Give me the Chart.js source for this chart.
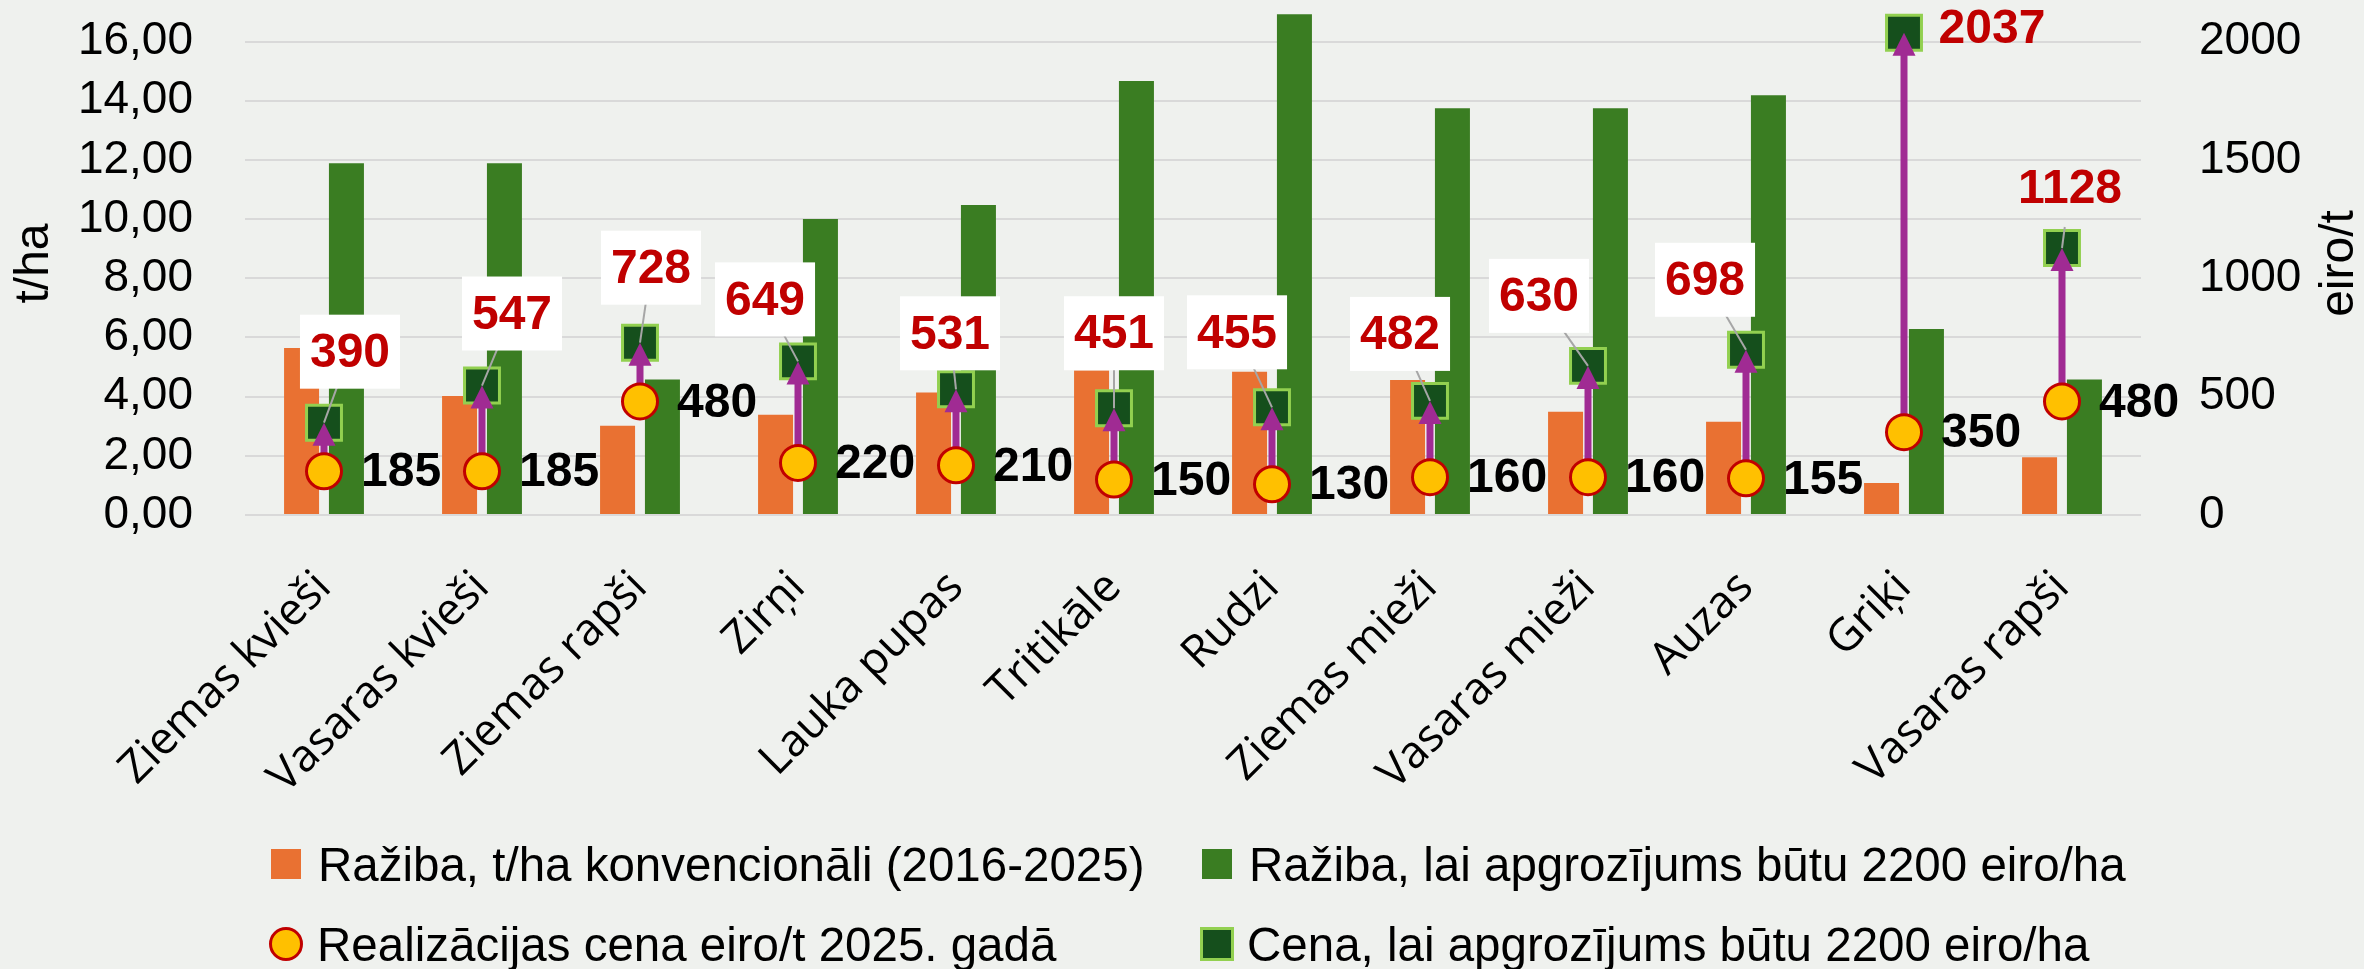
<!DOCTYPE html>
<html>
<head>
<meta charset="utf-8">
<script src="https://cdn.jsdelivr.net/npm/chart.js@4.4.1/dist/chart.umd.min.js"></script>
<style>
  html, body { margin: 0; padding: 0; background: #eff1ee; }
  #wrap { position: relative; width: 2364px; height: 969px; }
  #legend { position: absolute; left: 0; top: 0; width: 2364px; height: 969px; pointer-events: none;
    font-family: 'Liberation Sans', Arial, sans-serif; font-size: 47.5px; color: #000; }
  .item { position: absolute; display: flex; align-items: center; height: 40px; white-space: nowrap; }
  .mark { width: 30px; height: 30px; margin-right: 17px; box-sizing: border-box; flex: none; }
  .m-orange { background: #e97132; }
  .m-green { background: #3a7d22; }
  .m-circle { width: 34px; height: 34px; border-radius: 50%; background: #ffc000; border: 3px solid #c00000; margin-right: 14px; }
  .m-square { width: 34px; height: 34px; background: #154f1c; border: 3px solid #92d050; margin-right: 13px; }
</style>
</head>
<body>
<div id="wrap">
  <canvas id="myChart" width="2364" height="969"></canvas>
  <div id="legend">
    <div class="item" style="left:271px; top:844px;"><span class="mark m-orange"></span>Ražiba, t/ha konvencionāli (2016-2025)</div>
    <div class="item" style="left:1202px; top:844px;"><span class="mark m-green"></span>Ražiba, lai apgrozījums būtu 2200 eiro/ha</div>
    <div class="item" style="left:269px; top:924px;"><span class="mark m-circle"></span>Realizācijas cena eiro/t 2025. gadā</div>
    <div class="item" style="left:1200px; top:924px;"><span class="mark m-square"></span>Cena, lai apgrozījums būtu 2200 eiro/ha</div>
  </div>
</div>
<script>
// values
const categories = ['Ziemas kvieši', 'Vasaras kvieši', 'Ziemas rapši', 'Zirņi', 'Lauka pupas', 'Tritikāle',
    'Rudzi', 'Ziemas mieži', 'Vasaras mieži', 'Auzas', 'Griķi', 'Vasaras rapši'];
const yieldConv = [5.64, 4.02, 3.02, 3.39, 4.14, 4.88, 4.84, 4.56, 3.49, 3.15, 1.08, 1.95];
const yieldTarget = [11.89, 11.89, 4.58, 10.0, 10.48, 14.67, 16.92, 13.75, 13.75, 14.19, 6.29, 4.58];
const priceNow = [185, 185, 480, 220, 210, 150, 130, 160, 160, 155, 350, 480];
const priceTarget = [390, 547, 728, 649, 531, 451, 455, 482, 630, 698, 2037, 1128];
const leftTicks = [0, 2, 4, 6, 8, 10, 12, 14, 16];
const rightTicks = [0, 500, 1000, 1500, 2000];

const legendNames = ['Ražiba, t/ha konvencionāli (2016-2025)', 'Ražiba, lai apgrozījums būtu 2200 eiro/ha',
    'Cena, lai apgrozījums būtu 2200 eiro/ha', 'Realizācijas cena eiro/t 2025. gadā'];

// where the red labels sit, relative to their square (px), and whether they get a white box
const labelShift = [[26, -71], [30, -72], [11, -75], [-33, -62], [-6, -56], [0, -75],
    [-35, -75], [-30, -67], [-49, -70], [-41, -70], [88, -5], [8, -60]];
const labelBox = [true, true, true, true, true, true, true, true, true, true, false, false];

const arrows = {
    id: 'arrows',
    afterDatasetDraw(chart, args) {
        if (args.index !== 2) return;
        const ctx = chart.ctx;
        const tops = args.meta.data;
        const bottoms = chart.getDatasetMeta(3).data;
        ctx.save();
        ctx.fillStyle = '#a02b93';
        ctx.strokeStyle = '#a02b93';
        for (let i = 0; i < tops.length; i++) {
            const x = tops[i].x;
            const y1 = bottoms[i].y;
            const y2 = tops[i].y;
            const head = 23;
            ctx.lineWidth = 7;
            ctx.beginPath();
            ctx.moveTo(x, y1);
            ctx.lineTo(x, y2 + head - 2);
            ctx.stroke();
            ctx.beginPath();
            ctx.moveTo(x, y2);
            ctx.lineTo(x - 11.5, y2 + head);
            ctx.lineTo(x + 11.5, y2 + head);
            ctx.closePath();
            ctx.fill();
        }
        ctx.restore();
    }
};

const labels = {
    id: 'labels',
    afterDatasetsDraw(chart) {
        const ctx = chart.ctx;
        const squares = chart.getDatasetMeta(2).data;
        const circles = chart.getDatasetMeta(3).data;
        ctx.save();
        ctx.font = 'bold 48px "Liberation Sans", Arial, sans-serif';
        ctx.textBaseline = 'middle';
        for (let i = 0; i < circles.length; i++) {
            ctx.fillStyle = '#000';
            ctx.textAlign = 'left';
            ctx.fillText(String(priceNow[i]), circles[i].x + 37, circles[i].y + 2);

            const sx = squares[i].x, sy = squares[i].y;
            const x = sx + labelShift[i][0];
            const y = sy + labelShift[i][1];
            const text = String(priceTarget[i]);
            if (Math.abs(labelShift[i][1]) > 30) {
                ctx.strokeStyle = '#a6a6a6';
                ctx.lineWidth = 2;
                ctx.beginPath();
                ctx.moveTo(sx, sy);
                if (labelBox[i]) {
                    ctx.lineTo(x, y);
                } else {
                    ctx.lineTo(sx + (x - sx) * 0.35, sy + (y - sy) * 0.35);
                }
                ctx.stroke();
            }
            if (labelBox[i]) {
                const w = ctx.measureText(text).width + 20;
                ctx.fillStyle = '#fff';
                ctx.fillRect(x - w / 2, y - 37, w, 74);
            }
            ctx.fillStyle = '#c00000';
            ctx.textAlign = 'center';
            ctx.fillText(text, x, y + 2);
        }
        ctx.restore();
    }
};

const axisTitles = {
    id: 'axisTitles',
    afterDraw(chart) {
        const ctx = chart.ctx;
        const mid = (chart.chartArea.top + chart.chartArea.bottom) / 2;
        ctx.save();
        ctx.font = '48px "Liberation Sans", Arial, sans-serif';
        ctx.fillStyle = '#000';
        ctx.textAlign = 'center';
        ctx.textBaseline = 'middle';
        [['t/ha', 35], ['eiro/t', 2340]].forEach(([t, x]) => {
            ctx.save();
            ctx.translate(x, mid);
            ctx.rotate(-Math.PI / 2);
            ctx.fillText(t, 0, 0);
            ctx.restore();
        });
        ctx.restore();
    }
};

const tickFont = { family: "'Liberation Sans', Arial, sans-serif", size: 46 };

const ctx = document.getElementById('myChart').getContext('2d');
// eslint-disable-next-line no-undef
new Chart(ctx, {
    type: 'bar',
    data: {
        labels: categories,
        datasets: [{
            label: legendNames[0],
            data: yieldConv,
            backgroundColor: '#e97132',
            categoryPercentage: 0.568,
            barPercentage: 0.78,
            yAxisID: 'y',
            order: 2
        }, {
            label: legendNames[1],
            data: yieldTarget,
            backgroundColor: '#3a7d22',
            categoryPercentage: 0.568,
            barPercentage: 0.78,
            yAxisID: 'y',
            order: 3
        }, {
            type: 'line',
            label: legendNames[2],
            data: priceTarget,
            showLine: false,
            pointStyle: 'rect',
            pointRadius: 24.7,
            backgroundColor: '#154f1c',
            borderColor: '#92d050',
            borderWidth: 3,
            yAxisID: 'y2',
            clip: false,
            order: 1
        }, {
            type: 'line',
            label: legendNames[3],
            data: priceNow,
            showLine: false,
            pointStyle: 'circle',
            pointRadius: 17.5,
            backgroundColor: '#ffc000',
            borderColor: '#c00000',
            borderWidth: 3,
            yAxisID: 'y2',
            clip: false,
            order: 0
        }]
    },
    options: {
        responsive: false,
        animation: false,
        events: [],
        layout: { autoPadding: false, padding: { top: 12, bottom: 150, left: 0, right: 0 } },
        plugins: {
            legend: { display: false },
            tooltip: { enabled: false }
        },
        scales: {
            x: {
                grid: { display: false },
                border: { display: false },
                ticks: {
                    font: { family: "'Open Sans', sans-serif", size: 45 },
                    color: '#000',
                    maxRotation: 45,
                    minRotation: 45,
                    autoSkip: false,
                    padding: 38
                },
                afterFit(scale) { scale.height = 304; }
            },
            y: {
                position: 'left',
                min: 0,
                max: 17,
                grid: { color: '#d9d9d9', lineWidth: 2, drawTicks: false },
                border: { display: false },
                ticks: {
                    autoSkip: false,
                    padding: 52,
                    color: '#000',
                    font: tickFont,
                    callback: v => v.toFixed(2).replace('.', ',')
                },
                afterBuildTicks(scale) { scale.ticks = leftTicks.map(v => ({ value: v })); },
                afterFit(scale) {
                    scale.width = 245;
                    scale.paddingTop = 0;
                    scale.paddingBottom = 0;
                }
            },
            y2: {
                position: 'right',
                min: 0,
                max: 2125,
                grid: { display: false },
                border: { display: false },
                ticks: {
                    autoSkip: false,
                    padding: 50,
                    color: '#000',
                    font: tickFont,
                    callback: v => String(v)
                },
                afterBuildTicks(scale) { scale.ticks = rightTicks.map(v => ({ value: v })); },
                afterFit(scale) {
                    scale.width = 223;
                    scale.paddingTop = 0;
                    scale.paddingBottom = 0;
                }
            }
        }
    },
    plugins: [arrows, labels, axisTitles]
});
</script>
</body>
</html>
